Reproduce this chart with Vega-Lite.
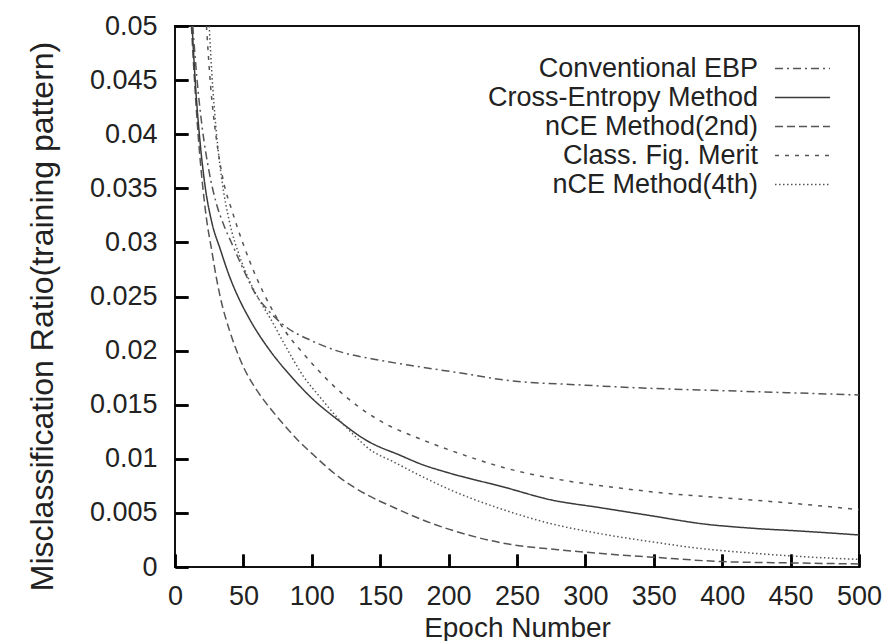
{
  "$schema": "https://vega.github.io/schema/vega-lite/v6.json",
  "width": 684,
  "height": 541,
  "autosize": {"type": "none"},
  "padding": {"left": 175, "top": 26, "right": 30, "bottom": 74},
  "background": "white",
  "config": {"view": {"stroke": "#111", "strokeWidth": 2}},
  "data": {
    "values": [
      {"series": "nCE Method(2nd)", "epoch": 12, "ratio": 0.05},
      {"series": "nCE Method(2nd)", "epoch": 14, "ratio": 0.0455},
      {"series": "nCE Method(2nd)", "epoch": 17, "ratio": 0.0398},
      {"series": "nCE Method(2nd)", "epoch": 20, "ratio": 0.0355},
      {"series": "nCE Method(2nd)", "epoch": 23, "ratio": 0.0322},
      {"series": "nCE Method(2nd)", "epoch": 26.8, "ratio": 0.0293},
      {"series": "nCE Method(2nd)", "epoch": 30, "ratio": 0.0269},
      {"series": "nCE Method(2nd)", "epoch": 33, "ratio": 0.025},
      {"series": "nCE Method(2nd)", "epoch": 40, "ratio": 0.0218},
      {"series": "nCE Method(2nd)", "epoch": 45, "ratio": 0.02},
      {"series": "nCE Method(2nd)", "epoch": 50, "ratio": 0.0185},
      {"series": "nCE Method(2nd)", "epoch": 60, "ratio": 0.0163},
      {"series": "nCE Method(2nd)", "epoch": 70, "ratio": 0.0146},
      {"series": "nCE Method(2nd)", "epoch": 80, "ratio": 0.0131},
      {"series": "nCE Method(2nd)", "epoch": 90, "ratio": 0.0117},
      {"series": "nCE Method(2nd)", "epoch": 100, "ratio": 0.0105},
      {"series": "nCE Method(2nd)", "epoch": 120, "ratio": 0.0083},
      {"series": "nCE Method(2nd)", "epoch": 140, "ratio": 0.0067},
      {"series": "nCE Method(2nd)", "epoch": 160, "ratio": 0.0055},
      {"series": "nCE Method(2nd)", "epoch": 180, "ratio": 0.0044},
      {"series": "nCE Method(2nd)", "epoch": 200, "ratio": 0.0035},
      {"series": "nCE Method(2nd)", "epoch": 240, "ratio": 0.0022},
      {"series": "nCE Method(2nd)", "epoch": 280, "ratio": 0.0016},
      {"series": "nCE Method(2nd)", "epoch": 310, "ratio": 0.00126},
      {"series": "nCE Method(2nd)", "epoch": 350, "ratio": 0.0009},
      {"series": "nCE Method(2nd)", "epoch": 400, "ratio": 0.0005},
      {"series": "nCE Method(2nd)", "epoch": 450, "ratio": 0.00038},
      {"series": "nCE Method(2nd)", "epoch": 500, "ratio": 0.00028},

      {"series": "Cross-Entropy Method", "epoch": 12.5, "ratio": 0.05},
      {"series": "Cross-Entropy Method", "epoch": 15, "ratio": 0.0445},
      {"series": "Cross-Entropy Method", "epoch": 18, "ratio": 0.0397},
      {"series": "Cross-Entropy Method", "epoch": 22, "ratio": 0.0352},
      {"series": "Cross-Entropy Method", "epoch": 27, "ratio": 0.0318},
      {"series": "Cross-Entropy Method", "epoch": 33, "ratio": 0.0294},
      {"series": "Cross-Entropy Method", "epoch": 40, "ratio": 0.0268},
      {"series": "Cross-Entropy Method", "epoch": 46, "ratio": 0.025},
      {"series": "Cross-Entropy Method", "epoch": 55, "ratio": 0.0228},
      {"series": "Cross-Entropy Method", "epoch": 70, "ratio": 0.0199},
      {"series": "Cross-Entropy Method", "epoch": 85, "ratio": 0.0176},
      {"series": "Cross-Entropy Method", "epoch": 100, "ratio": 0.0156},
      {"series": "Cross-Entropy Method", "epoch": 118, "ratio": 0.0137},
      {"series": "Cross-Entropy Method", "epoch": 140, "ratio": 0.0117},
      {"series": "Cross-Entropy Method", "epoch": 165, "ratio": 0.0103},
      {"series": "Cross-Entropy Method", "epoch": 180, "ratio": 0.0095},
      {"series": "Cross-Entropy Method", "epoch": 200, "ratio": 0.0087},
      {"series": "Cross-Entropy Method", "epoch": 240, "ratio": 0.0074},
      {"series": "Cross-Entropy Method", "epoch": 275, "ratio": 0.0062},
      {"series": "Cross-Entropy Method", "epoch": 310, "ratio": 0.0055},
      {"series": "Cross-Entropy Method", "epoch": 350, "ratio": 0.0047},
      {"series": "Cross-Entropy Method", "epoch": 385, "ratio": 0.004},
      {"series": "Cross-Entropy Method", "epoch": 420, "ratio": 0.0036},
      {"series": "Cross-Entropy Method", "epoch": 460, "ratio": 0.0033},
      {"series": "Cross-Entropy Method", "epoch": 500, "ratio": 0.00296},

      {"series": "Conventional EBP", "epoch": 13, "ratio": 0.05},
      {"series": "Conventional EBP", "epoch": 16, "ratio": 0.0452},
      {"series": "Conventional EBP", "epoch": 20, "ratio": 0.0405},
      {"series": "Conventional EBP", "epoch": 25, "ratio": 0.0365},
      {"series": "Conventional EBP", "epoch": 30, "ratio": 0.0337},
      {"series": "Conventional EBP", "epoch": 36, "ratio": 0.0315},
      {"series": "Conventional EBP", "epoch": 42.6, "ratio": 0.0296},
      {"series": "Conventional EBP", "epoch": 50, "ratio": 0.0275},
      {"series": "Conventional EBP", "epoch": 58.5, "ratio": 0.0253},
      {"series": "Conventional EBP", "epoch": 69, "ratio": 0.0236},
      {"series": "Conventional EBP", "epoch": 80, "ratio": 0.0223},
      {"series": "Conventional EBP", "epoch": 100, "ratio": 0.0209},
      {"series": "Conventional EBP", "epoch": 118, "ratio": 0.02},
      {"series": "Conventional EBP", "epoch": 150, "ratio": 0.0191},
      {"series": "Conventional EBP", "epoch": 179, "ratio": 0.0185},
      {"series": "Conventional EBP", "epoch": 210, "ratio": 0.0179},
      {"series": "Conventional EBP", "epoch": 240, "ratio": 0.0173},
      {"series": "Conventional EBP", "epoch": 300, "ratio": 0.0168},
      {"series": "Conventional EBP", "epoch": 350, "ratio": 0.0165},
      {"series": "Conventional EBP", "epoch": 400, "ratio": 0.0163},
      {"series": "Conventional EBP", "epoch": 450, "ratio": 0.0161},
      {"series": "Conventional EBP", "epoch": 500, "ratio": 0.0159},

      {"series": "Class. Fig. Merit", "epoch": 23, "ratio": 0.05},
      {"series": "Class. Fig. Merit", "epoch": 26, "ratio": 0.0445},
      {"series": "Class. Fig. Merit", "epoch": 30, "ratio": 0.0398},
      {"series": "Class. Fig. Merit", "epoch": 35, "ratio": 0.0359},
      {"series": "Class. Fig. Merit", "epoch": 42, "ratio": 0.0328},
      {"series": "Class. Fig. Merit", "epoch": 50, "ratio": 0.0298},
      {"series": "Class. Fig. Merit", "epoch": 58, "ratio": 0.0272},
      {"series": "Class. Fig. Merit", "epoch": 66, "ratio": 0.025},
      {"series": "Class. Fig. Merit", "epoch": 80, "ratio": 0.0219},
      {"series": "Class. Fig. Merit", "epoch": 94, "ratio": 0.0197},
      {"series": "Class. Fig. Merit", "epoch": 118, "ratio": 0.0165},
      {"series": "Class. Fig. Merit", "epoch": 150, "ratio": 0.0135},
      {"series": "Class. Fig. Merit", "epoch": 180, "ratio": 0.0118},
      {"series": "Class. Fig. Merit", "epoch": 210, "ratio": 0.0104},
      {"series": "Class. Fig. Merit", "epoch": 240, "ratio": 0.0092},
      {"series": "Class. Fig. Merit", "epoch": 280, "ratio": 0.0081},
      {"series": "Class. Fig. Merit", "epoch": 325, "ratio": 0.0073},
      {"series": "Class. Fig. Merit", "epoch": 360, "ratio": 0.0068},
      {"series": "Class. Fig. Merit", "epoch": 400, "ratio": 0.0064},
      {"series": "Class. Fig. Merit", "epoch": 450, "ratio": 0.0059},
      {"series": "Class. Fig. Merit", "epoch": 500, "ratio": 0.0053},

      {"series": "nCE Method(4th)", "epoch": 25, "ratio": 0.05},
      {"series": "nCE Method(4th)", "epoch": 27, "ratio": 0.0455},
      {"series": "nCE Method(4th)", "epoch": 30, "ratio": 0.0405},
      {"series": "nCE Method(4th)", "epoch": 34, "ratio": 0.036},
      {"series": "nCE Method(4th)", "epoch": 40, "ratio": 0.0318},
      {"series": "nCE Method(4th)", "epoch": 47, "ratio": 0.0288},
      {"series": "nCE Method(4th)", "epoch": 55, "ratio": 0.0263},
      {"series": "nCE Method(4th)", "epoch": 62, "ratio": 0.0246},
      {"series": "nCE Method(4th)", "epoch": 70, "ratio": 0.0229},
      {"series": "nCE Method(4th)", "epoch": 80, "ratio": 0.0206},
      {"series": "nCE Method(4th)", "epoch": 94, "ratio": 0.0176},
      {"series": "nCE Method(4th)", "epoch": 106, "ratio": 0.0157},
      {"series": "nCE Method(4th)", "epoch": 118, "ratio": 0.0139},
      {"series": "nCE Method(4th)", "epoch": 130, "ratio": 0.0123},
      {"series": "nCE Method(4th)", "epoch": 142, "ratio": 0.0109},
      {"series": "nCE Method(4th)", "epoch": 160, "ratio": 0.0097},
      {"series": "nCE Method(4th)", "epoch": 180, "ratio": 0.0084},
      {"series": "nCE Method(4th)", "epoch": 200, "ratio": 0.0072},
      {"series": "nCE Method(4th)", "epoch": 240, "ratio": 0.0053},
      {"series": "nCE Method(4th)", "epoch": 275, "ratio": 0.004},
      {"series": "nCE Method(4th)", "epoch": 310, "ratio": 0.0031},
      {"series": "nCE Method(4th)", "epoch": 350, "ratio": 0.0023},
      {"series": "nCE Method(4th)", "epoch": 385, "ratio": 0.0017},
      {"series": "nCE Method(4th)", "epoch": 420, "ratio": 0.0013},
      {"series": "nCE Method(4th)", "epoch": 460, "ratio": 0.00095},
      {"series": "nCE Method(4th)", "epoch": 500, "ratio": 0.0007}
    ]
  },
  "layer": [
    {
      "mark": {"type": "line", "strokeWidth": 1.5, "interpolate": "monotone"},
      "encoding": {
        "x": {
          "field": "epoch", "type": "quantitative",
          "scale": {"domain": [0, 500], "nice": false},
          "axis": {
            "orient": "bottom", "title": "Epoch Number", "tickCount": 10,
            "grid": false, "domain": false, "ticks": true, "tickSize": -13, "tickWidth": 2.5, "tickColor": "black",
            "labelFont": "Liberation Sans", "labelColor": "#222", "labelFontSize": 27, "labelPadding": 29, "labelFlush": false,
            "titleFont": "Liberation Sans", "titleColor": "#222", "titleFontWeight": "normal",
            "titleFontSize": 28, "titleBaseline": "alphabetic", "titleY": 69
          }
        },
        "y": {
          "field": "ratio", "type": "quantitative",
          "scale": {"domain": [0, 0.05], "nice": false},
          "axis": {
            "orient": "left", "title": "Misclassification Ratio(training pattern)", "tickCount": 10, "format": "~g",
            "grid": false, "domain": false, "ticks": true, "tickSize": -13, "tickWidth": 2.5, "tickColor": "black",
            "labelFont": "Liberation Sans", "labelColor": "#222", "labelFontSize": 27, "labelPadding": 31, "labelFlush": false,
            "titleFont": "Liberation Sans", "titleColor": "#222", "titleFontWeight": "normal",
            "titleFontSize": 32, "titleBaseline": "middle", "titleX": -133, "titleY": 290
          }
        },
        "stroke": {
          "field": "series", "type": "nominal",
          "scale": {
            "domain": ["Conventional EBP", "Cross-Entropy Method", "nCE Method(2nd)", "Class. Fig. Merit", "nCE Method(4th)"],
            "range": ["#555555", "#3a3a3a", "#555555", "#555555", "#555555"]
          },
          "legend": {
            "orient": "none", "legendX": 613, "legendY": 28, "title": null, "padding": 0,
            "symbolType": "M-2,0L2,0", "symbolSize": 756, "symbolStrokeWidth": 1.5,
            "labelAlign": "right", "labelOffset": -59, "labelLimit": 400,
            "labelFontSize": 27, "labelFont": "Liberation Sans", "labelColor": "#222", "rowPadding": 1
          }
        },
        "strokeDash": {
          "field": "series", "type": "nominal",
          "scale": {
            "domain": ["Conventional EBP", "Cross-Entropy Method", "nCE Method(2nd)", "Class. Fig. Merit", "nCE Method(4th)"],
            "range": [[8, 4, 2, 4], [1, 0], [8, 4], [4, 6], [1.5, 2.5]]
          },
          "legend": null
        }
      }
    },
    {
      "mark": {"type": "point", "opacity": 0},
      "encoding": {
        "x": {
          "field": "epoch", "type": "quantitative",
          "axis": {"orient": "top", "offset": -541, "tickCount": 10, "labels": false, "title": null, "ticks": true, "tickSize": 13, "tickColor": "black", "tickWidth": 2.5, "domain": false, "grid": false}
        },
        "y": {
          "field": "ratio", "type": "quantitative",
          "axis": {"orient": "right", "offset": -684, "tickCount": 10, "labels": false, "title": null, "ticks": true, "tickSize": 13, "tickColor": "black", "tickWidth": 2.5, "domain": false, "grid": false}
        }
      }
    }
  ],
  "resolve": {"axis": {"x": "independent", "y": "independent"}}
}
